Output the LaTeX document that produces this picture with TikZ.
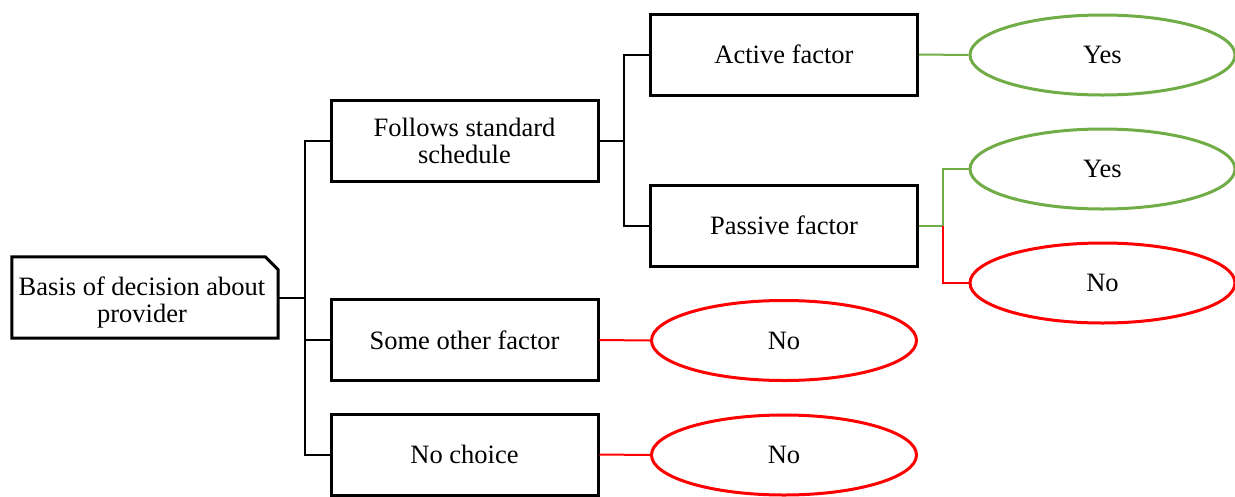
\documentclass[tikz,border=0pt]{standalone}
\usepackage{fontspec}
\setmainfont{Liberation Serif}
\usetikzlibrary{calc,shapes.geometric}
\definecolor{okgreen}{HTML}{70AD47}
\definecolor{nored}{HTML}{FF0000}
\begin{document}
\begin{tikzpicture}[x=1pt,y=-1pt,
  every node/.style={font=\fontsize{26.5}{27}\selectfont, align=center},
  box/.style={draw, line width=3pt, minimum width=267pt, minimum height=81pt},
  ans/.style={draw, ellipse, line width=3pt, minimum width=265pt, minimum height=80pt},
  yes/.style={ans, draw=okgreen},
  no/.style={ans, draw=nored},
  conn/.style={line width=2pt},
  gconn/.style={conn, draw=okgreen},
  rconn/.style={conn, draw=nored}]
\useasboundingbox (0,0) rectangle (1235,496);

% root node with a cut top-right corner
\node[minimum width=266pt, minimum height=81pt] (root) at (145,297.5) {};
\draw[line width=3pt, line join=miter]
  (root.north west) -- ($(root.north east)+(-13,0)$) -- ($(root.north east)+(0,13)$)
  -- (root.south east) -- (root.south west) -- cycle;
\node (roottext) at ($(root.center)+(-3,5)$) {Basis of decision about\\provider};

% second level
\node[box] (follows) at (464.5,140.5) {Follows standard\\schedule};
\node[box] (other)   at (464.5,340)   {Some other factor};
\node[box] (nochoice) at (464.5,454.5) {No choice};

% third level
\node[box] (active)  at (784,54.5)  {Active factor};
\node[box] (passive) at (784,225.5) {Passive factor};

% outcomes
\node[yes] (y1) at (1102.5,55)  {Yes};
\node[yes] (y2) at (1102.5,169) {Yes};
\node[no]  (n1) at (1102.5,283) {No};
\node[no]  (n2) at (784,340.5)  {No};
\node[no]  (n3) at (784,455)    {No};

% junction points
\coordinate (j1) at (305,297.5);
\coordinate (j2) at (624,140.5);
\coordinate (j3) at (943,225.5);

% connectors
\draw[conn] (root.east) -- (j1);
\draw[conn] (j1) |- (follows.west);
\draw[conn] (j1) |- (other.west);
\draw[conn] (j1) |- (nochoice.west);

\draw[conn] (follows.east) -- (j2);
\draw[conn] (j2) |- (active.west);
\draw[conn] (j2) |- (passive.west);

\draw[gconn] (active.east) -- (y1.west);
\draw[gconn] (passive.east) -- (j3);
\draw[gconn] (j3) |- (y2.west);
\draw[rconn] (j3) |- (n1.west);

\draw[rconn] (other.east) -- (n2.west);
\draw[rconn] (nochoice.east) -- (n3.west);
\end{tikzpicture}
\end{document}
